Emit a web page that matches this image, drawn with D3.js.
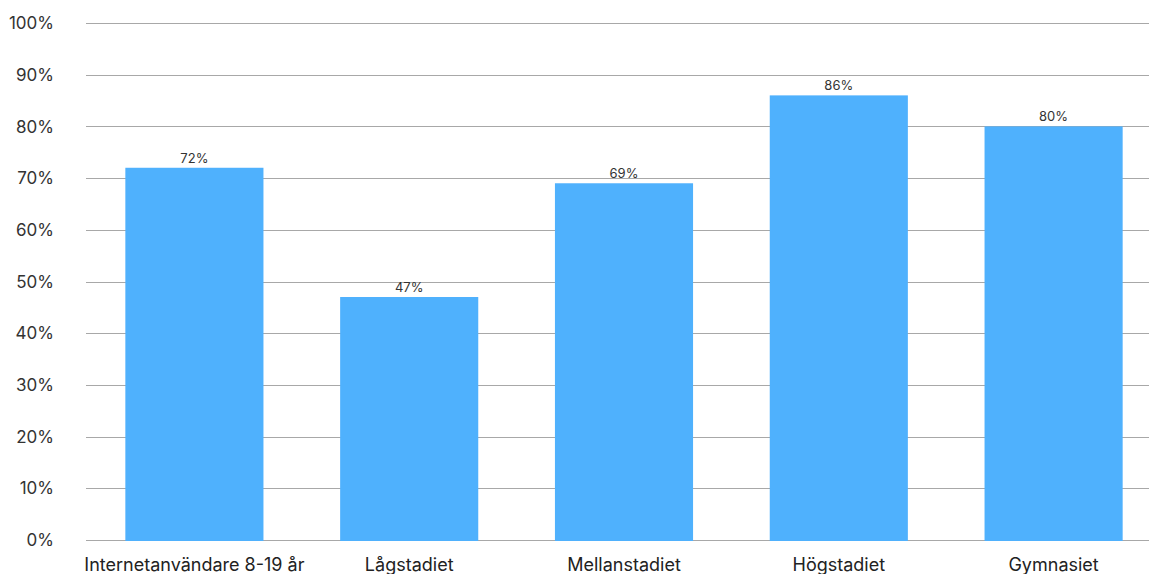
<!DOCTYPE html>
<html><head><meta charset="utf-8">
<script src="https://cdn.jsdelivr.net/npm/d3@7"></script>
<style>
html,body{margin:0;padding:0;background:#fff;}
svg{display:block;font-family:Inter, "Noto Sans", sans-serif;}
</style></head>
<body>
<svg id="c" width="1149" height="574"></svg>
<script>
const categories = ["Internetanvändare 8-19 år","Lågstadiet","Mellanstadiet","Högstadiet","Gymnasiet"];
const values = [72,47,69,86,80];
const yTicks = [0,10,20,30,40,50,60,70,80,90,100];

(function(){
const svg = d3.select("#c");
const mLeft = 86, mRight = 1160, mTop = 23, mBottom = 540;
const x = d3.scaleBand().domain(categories).range([mLeft+1,mRight+1]).paddingInner(0.357).paddingOuter(0.1785);
const y = d3.scaleLinear().domain([0,100]).range([mBottom,mTop]);

const grid = svg.append("g");
grid.selectAll("line").data(yTicks).join("line")
  .attr("x1",mLeft).attr("x2",1149)
  .attr("y1",d=>Math.round(y(d))+0.5).attr("y2",d=>Math.round(y(d))+0.5)
  .attr("stroke","#a8a8a8").attr("stroke-width",1);
grid.selectAll("text").data(yTicks).join("text")
  .attr("x",54).attr("y",d=>y(d)).attr("dy","0.36em")
  .attr("text-anchor","end").attr("font-size",17).attr("fill","#333")
  .text(d=>d+"%");

svg.append("g").selectAll("rect").data(values).join("rect")
  .attr("x",(d,i)=>x(categories[i])).attr("width",x.bandwidth())
  .attr("y",d=>y(d)).attr("height",d=>y(0)-y(d)+1)
  .attr("fill","#4fb1fd");

svg.append("g").selectAll("text").data(values).join("text")
  .attr("x",(d,i)=>x(categories[i])+x.bandwidth()/2)
  .attr("y",d=>y(d)-5)
  .attr("text-anchor","middle").attr("font-size",13).attr("fill","#333")
  .text(d=>d+"%");

svg.append("g").selectAll("text").data(categories).join("text")
  .attr("x",d=>x(d)+x.bandwidth()/2).attr("y",571)
  .attr("text-anchor","middle").attr("font-size",18).attr("fill","#222")
  .text(d=>d);
})();
</script>
</body></html>
